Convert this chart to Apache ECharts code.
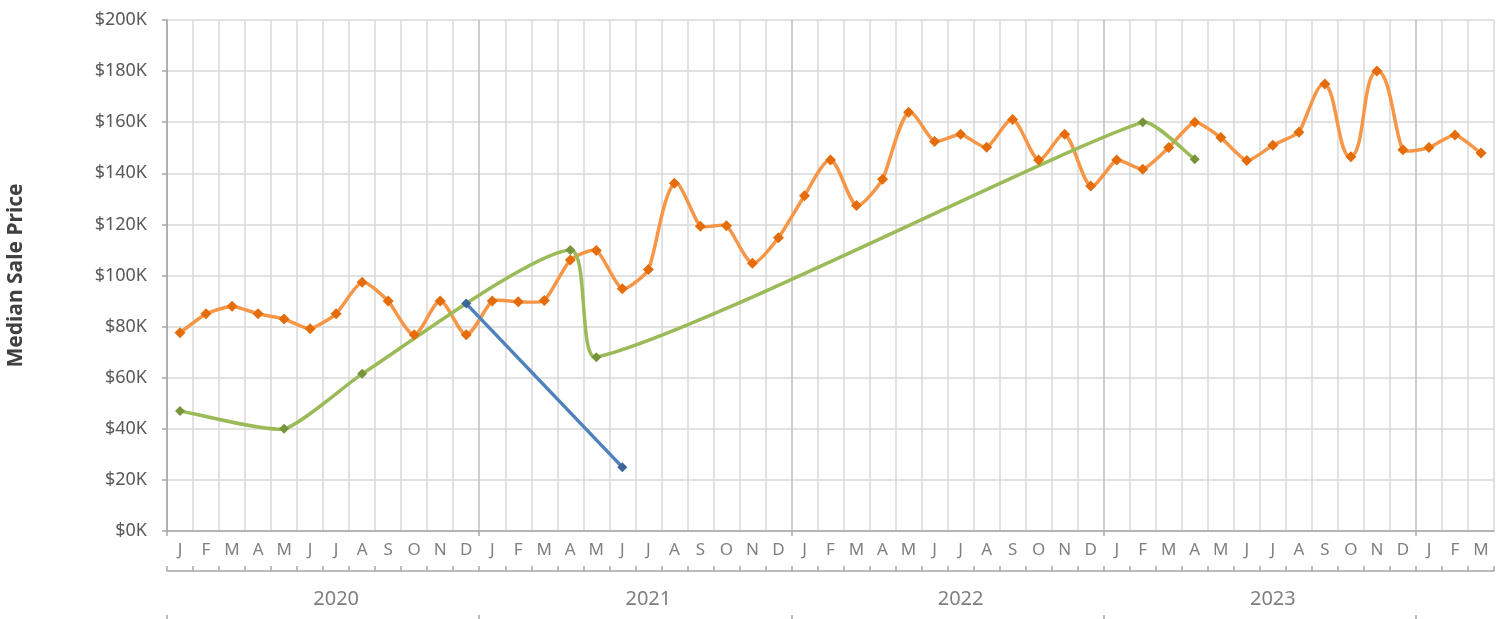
<!DOCTYPE html>
<html>
<head>
<meta charset="utf-8">
<title>Median Sale Price</title>
<script src="https://cdn.jsdelivr.net/npm/echarts@6/dist/echarts.min.js"></script>
<style>
  html, body { margin: 0; padding: 0; background: #ffffff; }
  #chart { width: 1509px; height: 619px; }
</style>
</head>
<body>
<div id="chart"></div>
<script>
// Month letters, Jan 2020 through Mar 2024
const monthLetters = [
  'J','F','M','A','M','J','J','A','S','O','N','D',
  'J','F','M','A','M','J','J','A','S','O','N','D',
  'J','F','M','A','M','J','J','A','S','O','N','D',
  'J','F','M','A','M','J','J','A','S','O','N','D',
  'J','F','M'
];
const yearLabels = ['2020', '2021', '2022', '2023'];
const yTicks = [0, 20000, 40000, 60000, 80000, 100000, 120000, 140000, 160000, 180000, 200000];

// Monthly median sale price
const medianMonthly = [
  77600, 85000, 88000, 85000, 83000, 79200, 85000, 97400, 90000, 76800, 90000, 76800,
  90000, 89700, 90200, 106100, 109800, 94800, 102300, 136100, 119300, 119500, 104800, 114800,
  131200, 145200, 127400, 137700, 163900, 152400, 155300, 150200, 161100, 145200, 155300, 135000,
  145200, 141600, 150100, 160000, 154000, 145000, 151000, 156100, 175000, 146500, 180000, 149200,
  150100, 155000, 147900
];

// Sparse sales (months without a sale are empty)
const greenSales = [
  47000, null, null, null, 40000, null, null, 61500, null, null, null, null,
  null, null, null, 110000, 68000, null, null, null, null, null, null, null,
  null, null, null, null, null, null, null, null, null, null, null, null,
  null, 160000, null, 145500, null, null, null, null, null, null, null, null,
  null, null, null
];
const blueSales = [
  null, null, null, null, null, null, null, null, null, null, null, 89000,
  null, null, null, null, null, 25000, null, null, null, null, null, null,
  null, null, null, null, null, null, null, null, null, null, null, null,
  null, null, null, null, null, null, null, null, null, null, null, null,
  null, null, null
];

const axisGray = '#a6a6a6';
const gridLight = '#d9d9d9';
const gridYear = '#bfbfbf';
const labelFont = 'Noto Sans';

// split line colours: a darker line at every January boundary
const vLineColors = [];
for (let i = 0; i < 12; i++) vLineColors.push(i === 0 ? gridYear : gridLight);

const nMonths = monthLetters.length;
const yearLabelPos = yearLabels.map((_, i) => i * 12 + 6.5);
const yearBounds = [0, 12, 24, 36, 48];

// Smoothed path through pixel points: cubic Bezier segments whose
// control points follow the neighbouring points, scaled by segment length.
function smoothPath(pts) {
  if (!pts.length) return '';
  const dist = (p, q) => Math.hypot(q[0] - p[0], q[1] - p[1]);
  const f = 1 / 6;
  let d = 'M' + pts[0][0] + ' ' + pts[0][1];
  for (let i = 0; i < pts.length - 1; i++) {
    const p0 = pts[i - 1] || pts[i];
    const p1 = pts[i];
    const p2 = pts[i + 1];
    const p3 = pts[i + 2] || pts[i + 1];
    const d12 = dist(p1, p2);
    const d02 = dist(p0, p2);
    const d13 = dist(p1, p3);
    const a = d02 > 0 ? f * d12 / d02 : 0;
    const b = d13 > 0 ? f * d12 / d13 : 0;
    const c1x = p1[0] + a * (p2[0] - p0[0]);
    const c1y = p1[1] + a * (p2[1] - p0[1]);
    const c2x = p2[0] - b * (p3[0] - p1[0]);
    const c2y = p2[1] - b * (p3[1] - p1[1]);
    d += ' C' + c1x + ' ' + c1y + ' ' + c2x + ' ' + c2y + ' ' + p2[0] + ' ' + p2[1];
  }
  return d;
}

// custom series drawing one smoothed curve for a value array
function curveSeries(values, color, width) {
  const items = [];
  values.forEach((v, i) => { if (v != null) items.push([i, v]); });
  return {
    type: 'custom',
    xAxisIndex: 0,
    yAxisIndex: 0,
    silent: true,
    data: items,
    encode: { x: 0, y: 1 },
    renderItem: (params, api) => {
      if (params.dataIndex !== 0) return null;
      const pts = items.map((it) => api.coord(it));
      return {
        type: 'path',
        shape: { pathData: smoothPath(pts) },
        style: { fill: 'none', stroke: color, lineWidth: width, lineCap: 'round', lineJoin: 'round' }
      };
    }
  };
}

function markerSeries(name, values, color, size) {
  return {
    name: name, type: 'line', xAxisIndex: 0, data: values,
    connectNulls: true, symbol: 'diamond', symbolSize: size, showAllSymbol: true,
    lineStyle: { width: 0, opacity: 0 },
    itemStyle: { color: color }
  };
}

const chart = echarts.init(document.getElementById('chart'), null, { renderer: 'canvas' });

chart.setOption({
  animation: false,
  backgroundColor: '#ffffff',
  grid: { left: 167, right: 15, top: 20, bottom: 88, containLabel: false, outerBoundsMode: 'none' },
  xAxis: [
    {
      type: 'category',
      data: monthLetters,
      position: 'bottom',
      boundaryGap: true,
      axisLine: { show: true, lineStyle: { color: axisGray, width: 1.5 } },
      axisTick: { show: false },
      axisLabel: {
        interval: 0, margin: 11, color: '#7f7f7f', fontSize: 17, fontFamily: labelFont
      },
      splitLine: { show: true, interval: 0, lineStyle: { color: vLineColors, width: 1.5 } }
    },
    {
      // year-boundary ticks on the month axis
      type: 'value', min: 0, max: nMonths, position: 'bottom', offset: 0,
      axisLine: { show: false },
      axisTick: { show: true, customValues: yearBounds, length: 5, lineStyle: { color: axisGray, width: 1.5 } },
      axisLabel: { show: false },
      splitLine: { show: false }
    },
    {
      // second row: month ticks pointing up, with year labels below
      type: 'category',
      data: monthLetters,
      position: 'bottom',
      offset: 40,
      boundaryGap: true,
      axisLine: { show: true, lineStyle: { color: axisGray, width: 1.5 } },
      axisTick: { show: true, inside: true, interval: 0, length: 5, lineStyle: { color: axisGray, width: 1.5 } },
      axisLabel: { show: false },
      splitLine: { show: false }
    },
    {
      type: 'value', min: 0, max: nMonths, position: 'bottom', offset: 40,
      axisLine: { show: false },
      axisTick: { show: false },
      axisLabel: {
        show: true, customValues: yearLabelPos, margin: 18,
        color: '#7f7f7f', fontSize: 20, fontFamily: labelFont,
        formatter: (v) => yearLabels[Math.round((v - 6.5) / 12)] || ''
      },
      splitLine: { show: false }
    },
    {
      // year-boundary ticks along the bottom edge
      type: 'value', min: 0, max: nMonths, position: 'bottom', offset: 84,
      axisLine: { show: false },
      axisTick: { show: true, customValues: yearBounds, length: 6, lineStyle: { color: axisGray, width: 1.5 } },
      axisLabel: { show: false },
      splitLine: { show: false }
    }
  ],
  yAxis: {
    type: 'value',
    min: yTicks[0],
    max: yTicks[yTicks.length - 1],
    interval: yTicks[1] - yTicks[0],
    name: 'Median Sale Price',
    nameLocation: 'middle',
    nameRotate: 90,
    nameGap: 140,
    nameTextStyle: { fontFamily: labelFont, fontWeight: 'bold', fontSize: 21, color: '#404040' },
    axisLine: { show: true, lineStyle: { color: axisGray, width: 1.5 } },
    axisTick: { show: true, length: 5, lineStyle: { color: axisGray, width: 1.5 } },
    axisLabel: {
      margin: 20, color: '#595959', fontSize: 18, fontFamily: labelFont,
      formatter: (v) => '$' + (v / 1000) + 'K'
    },
    splitLine: { show: true, lineStyle: { color: gridLight, width: 1.5 } }
  },
  series: [
    curveSeries(medianMonthly, '#f79646', 3.5),
    markerSeries('Median', medianMonthly, '#e46c0a', 11),
    curveSeries(greenSales, '#9bbb59', 3.5),
    markerSeries('Sales A', greenSales, '#77933c', 10),
    {
      name: 'Sales B', type: 'line', xAxisIndex: 0, data: blueSales,
      connectNulls: true, symbol: 'diamond', symbolSize: 10,
      lineStyle: { color: '#4f81bd', width: 3.5 },
      itemStyle: { color: '#3a6597' }
    }
  ]
});
</script>
</body>
</html>
